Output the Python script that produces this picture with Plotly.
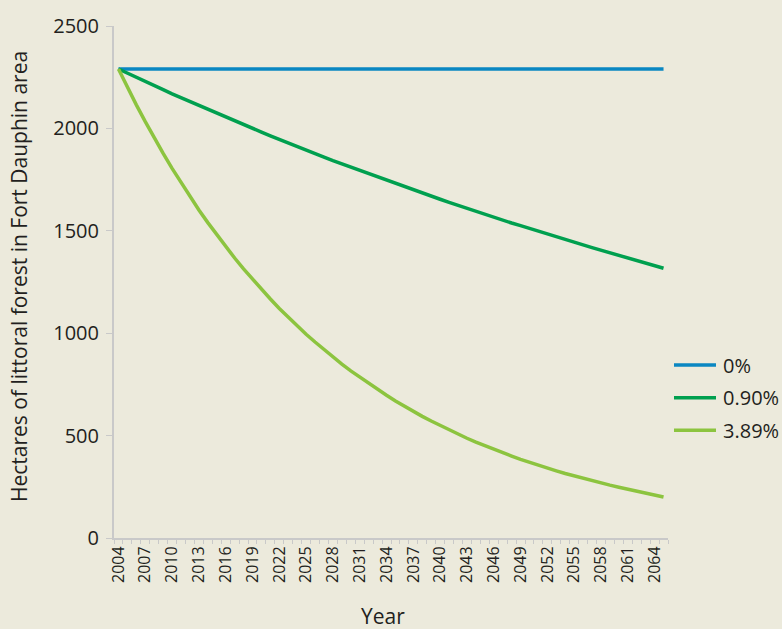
import plotly.graph_objects as go

years = list(range(2004, 2066))

rate_0 = [2290] * 62

rate_090 = [2290, 2269, 2249, 2229, 2209, 2189, 2169, 2150, 2130, 2111,
            2092, 2073, 2055, 2036, 2018, 2000, 1982, 1964, 1946, 1929,
            1911, 1894, 1877, 1860, 1843, 1827, 1810, 1794, 1778, 1762,
            1746, 1730, 1715, 1699, 1684, 1669, 1654, 1639, 1624, 1610,
            1595, 1581, 1566, 1552, 1538, 1525, 1511, 1497, 1484, 1470,
            1457, 1444, 1431, 1418, 1405, 1393, 1380, 1368, 1355, 1343,
            1331, 1317]

rate_389 = [2290, 2201, 2115, 2033, 1954, 1878, 1805, 1735, 1667, 1602,
            1540, 1480, 1422, 1367, 1314, 1263, 1214, 1167, 1121, 1078,
            1036, 995, 957, 920, 884, 849, 816, 785, 754, 725,
            697, 669, 643, 618, 594, 571, 549, 528, 507, 487,
            468, 450, 433, 416, 400, 384, 369, 355, 341, 328,
            315, 303, 291, 280, 269, 258, 248, 238, 229, 220,
            211, 200]

tick_years = list(range(2004, 2065, 3))
y_ticks = [0, 500, 1000, 1500, 2000, 2500]

series_names = ["0%", "0.90%", "3.89%"]
series_values = [rate_0, rate_090, rate_389]
series_colors = ["#0a87c2", "#00a04f", "#8cc43f"]

BG = "#eceadc"
FONT = "Open Sans"
TXT = "#231f20"
AX = "#c9c9c9"

W, H = 782, 629
ML, MR, MT, MB = 114, 114, 20, 91
PW = W - ML - MR
PH = H - MT - MB


def px(x):
    return (x - ML) / PW


def py(y):
    return (H - MB - y) / PH


fig = go.Figure()
for name, vals, col in zip(series_names, series_values, series_colors):
    fig.add_trace(go.Scatter(x=years, y=vals, name=name, mode="lines",
                             line=dict(color=col, width=3.5),
                             showlegend=False))

# legend drawn as samples + labels
shapes = []
annotations = []
for i, (name, col) in enumerate(zip(series_names, series_colors)):
    yy = 363 + i * 33
    shapes.append(dict(type="line", xref="paper", yref="paper",
                       x0=px(674), x1=px(716), y0=py(yy), y1=py(yy),
                       line=dict(color=col, width=3.5)))
    annotations.append(dict(text=name, xref="paper", yref="paper",
                            x=px(721), y=py(yy), xanchor="left",
                            yanchor="middle", showarrow=False,
                            font=dict(size=20, family=FONT, color=TXT)))

annotations.append(dict(text="Year", xref="paper", yref="paper",
                        x=px(383), y=py(617), xanchor="center",
                        yanchor="middle", showarrow=False,
                        font=dict(size=21, family=FONT, color=TXT)))
annotations.append(dict(text="Hectares of littoral forest in Fort Dauphin area",
                        xref="paper", yref="paper", x=px(19), y=py(274),
                        xanchor="center", yanchor="middle", textangle=-90,
                        showarrow=False,
                        font=dict(size=21, family=FONT, color=TXT)))

fig.update_layout(
    width=W, height=H,
    paper_bgcolor=BG, plot_bgcolor=BG,
    margin=dict(l=ML, r=MR, t=MT, b=MB),
    font=dict(family=FONT, color=TXT, size=19),
    showlegend=False,
    xaxis=dict(range=[2003.5, 2065.5], tickvals=tick_years,
               ticktext=[str(t) for t in tick_years],
               tickangle=-90, tickfont=dict(size=16, family=FONT, color=TXT),
               showgrid=False, zeroline=False, showline=True,
               linecolor=AX, linewidth=2, ticks="",
               minor=dict(tick0=2003.5, dtick=1, ticks="outside",
                          ticklen=4, tickcolor=AX, tickwidth=1, showgrid=False)),
    yaxis=dict(range=[0, 2500], tickvals=y_ticks,
               tickfont=dict(size=20, family=FONT, color=TXT),
               showgrid=False, zeroline=False, showline=True,
               linecolor=AX, linewidth=2, ticks="outside", ticklen=6,
               tickcolor=AX, tickwidth=1, ticklabelstandoff=3),
    shapes=shapes,
    annotations=annotations,
)

fig.write_html("out.html",
               config={"displayModeBar": False},
               post_script="document.body.style.margin='0';"
                           "document.body.style.background='" + BG + "';")
